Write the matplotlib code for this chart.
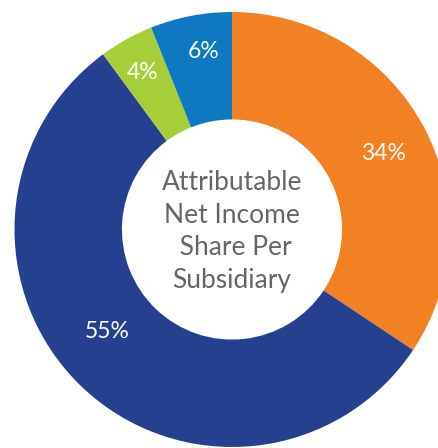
import numpy as np
import matplotlib.pyplot as plt

# income share per subsidiary (percent, as printed)
shares = [34, 55, 4, 6]
labels = ["34%", "55%", "4%", "6%"]
colors = ["#F28123", "#25408F", "#A6CE39", "#0E78C0"]
center_text = "Attributable\nNet Income\n Share Per\nSubsidiary"

W, H = 438, 448
fig = plt.figure(figsize=(W / 100, H / 100), dpi=100)
ax = fig.add_axes([0, 0, 1, 1])

# donut geometry in pixels
cx, cy, R = 232, 229.5, 217.5

wedges, _ = ax.pie(shares, colors=colors, startangle=90, counterclock=False,
                   radius=1.0, wedgeprops=dict(width=0.494, linewidth=0))

# value labels sit in the ring; small per-slice nudges (radius, degrees)
label_r = [0.78, 0.74, 0.83, 0.83]
label_da = [-1.5, -7, 0.5, -2]
for w, lab, r, da in zip(wedges, labels, label_r, label_da):
    ang = np.deg2rad((w.theta1 + w.theta2) / 2 + da)
    ax.text(r * np.cos(ang), r * np.sin(ang), lab, color="white",
            ha="center", va="center", fontsize=16.5, family="Lato")

ax.text(0, -0.01, center_text, ha="center", va="center", fontsize=19,
        color="#666666", family="Lato", linespacing=1.38)

ax.set_xlim(-cx / R, (W - cx) / R)
ax.set_ylim(-(H - cy) / R, cy / R)
ax.set_aspect("auto")
ax.axis("off")

fig.savefig("out.png", dpi=100)
